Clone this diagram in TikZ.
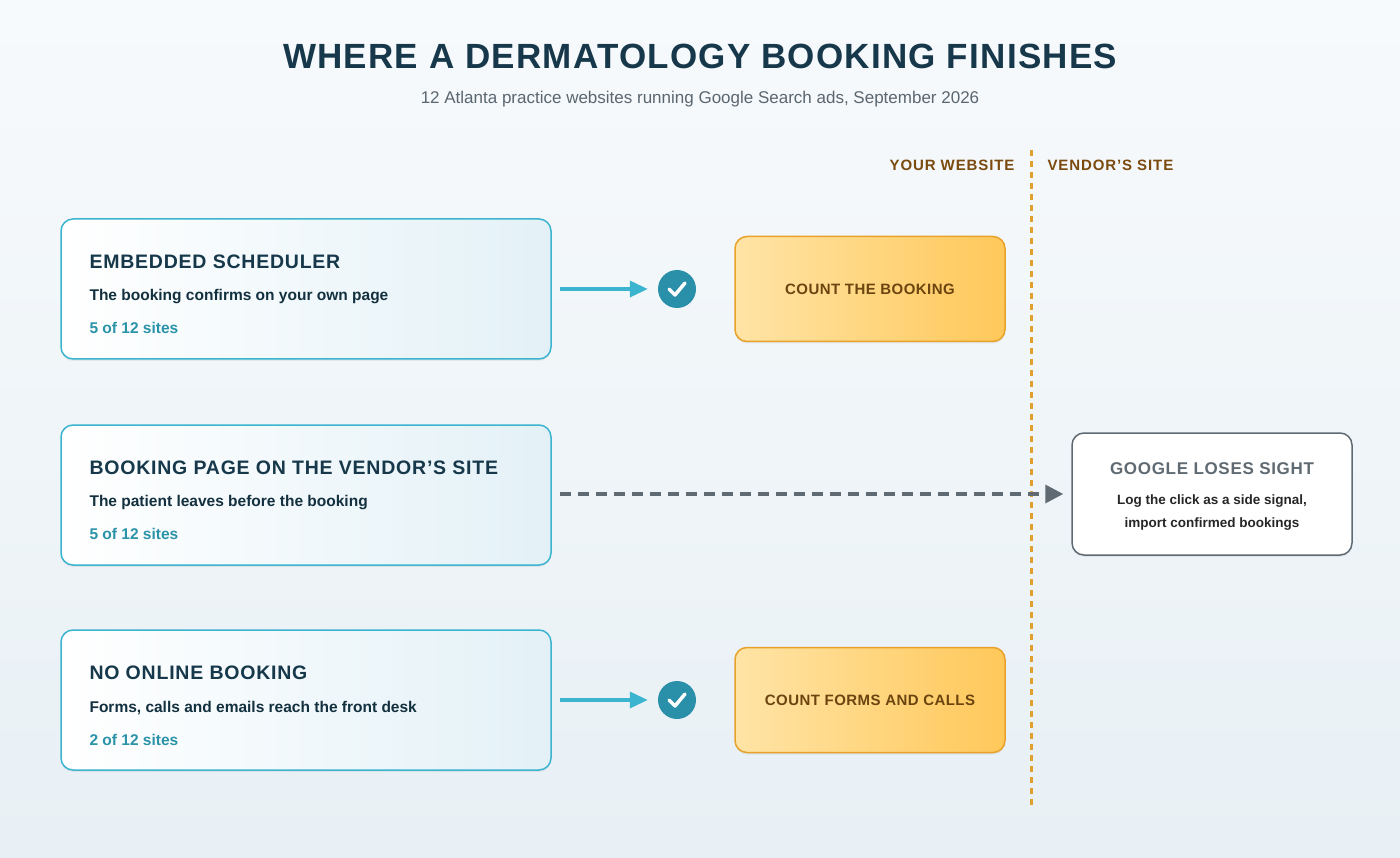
\documentclass[tikz,border=0pt]{standalone}
\usepackage{fontspec}
\setmainfont{Liberation Sans}
\usetikzlibrary{arrows.meta,shadows}
\definecolor{navy}{HTML}{16384A}
\definecolor{cyanb}{HTML}{3BB4CF}
\definecolor{teal}{HTML}{2A93A8}
\definecolor{chk}{HTML}{2A8FA8}
\definecolor{orb}{HTML}{E8A22A}
\definecolor{brown}{HTML}{6B4410}
\definecolor{gr}{HTML}{5F6A72}
\definecolor{sub}{HTML}{5A6670}
\definecolor{bgt}{HTML}{F7FAFC}
\definecolor{bgb}{HTML}{E8F0F5}
\definecolor{boxr}{HTML}{E3F1F7}
\definecolor{orl}{HTML}{FFE4A6}
\definecolor{orr}{HTML}{FFC85A}
\definecolor{dashc}{HTML}{E0A030}
\newcommand{\apo}{\symbol{39}}
\begin{document}
\begin{tikzpicture}[x=1pt,y=-1pt,
  lbox/.style={draw=cyanb,line width=1.5pt,rounded corners=12pt,left color=white,right color=boxr,minimum width=490pt,minimum height=140pt,drop shadow={shadow xshift=0pt,shadow yshift=-2pt,opacity=.12}},
  obox/.style={draw=orb,line width=1.5pt,rounded corners=12pt,left color=orl,right color=orr,minimum width=270pt,minimum height=105pt,font=\fontsize{15}{18}\bfseries\addfontfeature{LetterSpace=3}\selectfont,text=brown,drop shadow={shadow xshift=0pt,shadow yshift=-2pt,opacity=.12}},
  ht/.style={anchor=west,font=\fontsize{19.5}{22}\bfseries\addfontfeature{LetterSpace=4}\selectfont,text=navy},
  st/.style={anchor=west,font=\fontsize{15.5}{18}\bfseries\selectfont,text=navy!85!black},
  ct/.style={anchor=west,font=\fontsize{15.5}{18}\bfseries\selectfont,text=teal},
  carr/.style={cyanb,line width=3.5pt,-{Triangle[length=18pt,width=16pt]}},
  chkc/.style={circle,fill=chk,minimum size=38pt,inner sep=0pt},
  lab/.style={font=\fontsize{15}{18}\bfseries\addfontfeature{LetterSpace=6}\selectfont,text=brown!90!orange}]
\shade[top color=bgt,bottom color=bgb] (0,0) rectangle (1400,858);
\useasboundingbox (0,0) rectangle (1400,858);
\node[font=\fontsize{35}{40}\bfseries\addfontfeature{LetterSpace=3.5}\selectfont,text=navy] (title) at (700,56) {WHERE A DERMATOLOGY BOOKING FINISHES};
\node[font=\fontsize{17}{20}\selectfont,text=sub] (subt) at (700,99) {12 Atlanta practice websites running Google Search ads, September 2026};
\node[lab,anchor=east] (yw) at (1018,165) {YOUR WEBSITE};
\node[lab,anchor=west] (vs) at (1044,165) {VENDOR\apo S SITE};
\coordinate (dtop) at (1031,150); \coordinate (dbot) at (1031,805);
\draw[dashc,line width=3pt,dash pattern=on 6pt off 5pt] (dtop) -- (dbot);
% row 1
\node[lbox] (b1) at (306,289) {};
\node[ht] (b1t) at (86,262) {EMBEDDED SCHEDULER};
\node[st] (b1s) at (86,297) {The booking confirms on your own page};
\node[ct] (b1c) at (86,328) {5 of 12 sites};
\node[chkc] (c1) at (677,289) {};
\draw[white,line width=3.5pt,line cap=round,line join=round] ([shift={(-8,0)}]c1.center) -- ++(6,6) -- ++(10,-12);
\coordinate (a1) at (560,289);
\draw[carr] (a1) -- ([xshift=-10pt]c1.west);
\node[obox] (o1) at (870,289) {COUNT THE BOOKING};
% row 2
\node[lbox] (b2) at (306,495) {};
\node[ht] (b2t) at (86,468) {BOOKING PAGE ON THE VENDOR\apo S SITE};
\node[st] (b2s) at (86,503) {The patient leaves before the booking};
\node[ct] (b2c) at (86,534) {5 of 12 sites};
\node[draw=gr,line width=1.5pt,rounded corners=12pt,fill=white,minimum width=280pt,minimum height=122pt,drop shadow={shadow xshift=0pt,shadow yshift=-2pt,opacity=.12}] (g) at (1212,494) {};
\node[font=\fontsize{17}{20}\bfseries\addfontfeature{LetterSpace=4}\selectfont,text=gr] (gt) at (1212,469) {GOOGLE LOSES SIGHT};
\node[font=\fontsize{13.5}{23}\bfseries\selectfont,align=center,text=black!85] (gs) at (1212,513) {Log the click as a side signal,\\import confirmed bookings};
\coordinate (a2) at (560,494);
\draw[gr,line width=3.5pt,dash pattern=on 11pt off 7pt,-{Triangle[length=18pt,width=18pt]}] (a2) -- ([xshift=-8pt]g.west);
% row 3
\node[lbox] (b3) at (306,700) {};
\node[ht] (b3t) at (86,673) {NO ONLINE BOOKING};
\node[st] (b3s) at (86,708) {Forms, calls and emails reach the front desk};
\node[ct] (b3c) at (86,740) {2 of 12 sites};
\node[chkc] (c3) at (677,700) {};
\draw[white,line width=3.5pt,line cap=round,line join=round] ([shift={(-8,0)}]c3.center) -- ++(6,6) -- ++(10,-12);
\coordinate (a3) at (560,700);
\draw[carr] (a3) -- ([xshift=-10pt]c3.west);
\node[obox] (o3) at (870,700) {COUNT FORMS AND CALLS};
\end{tikzpicture}
\end{document}
